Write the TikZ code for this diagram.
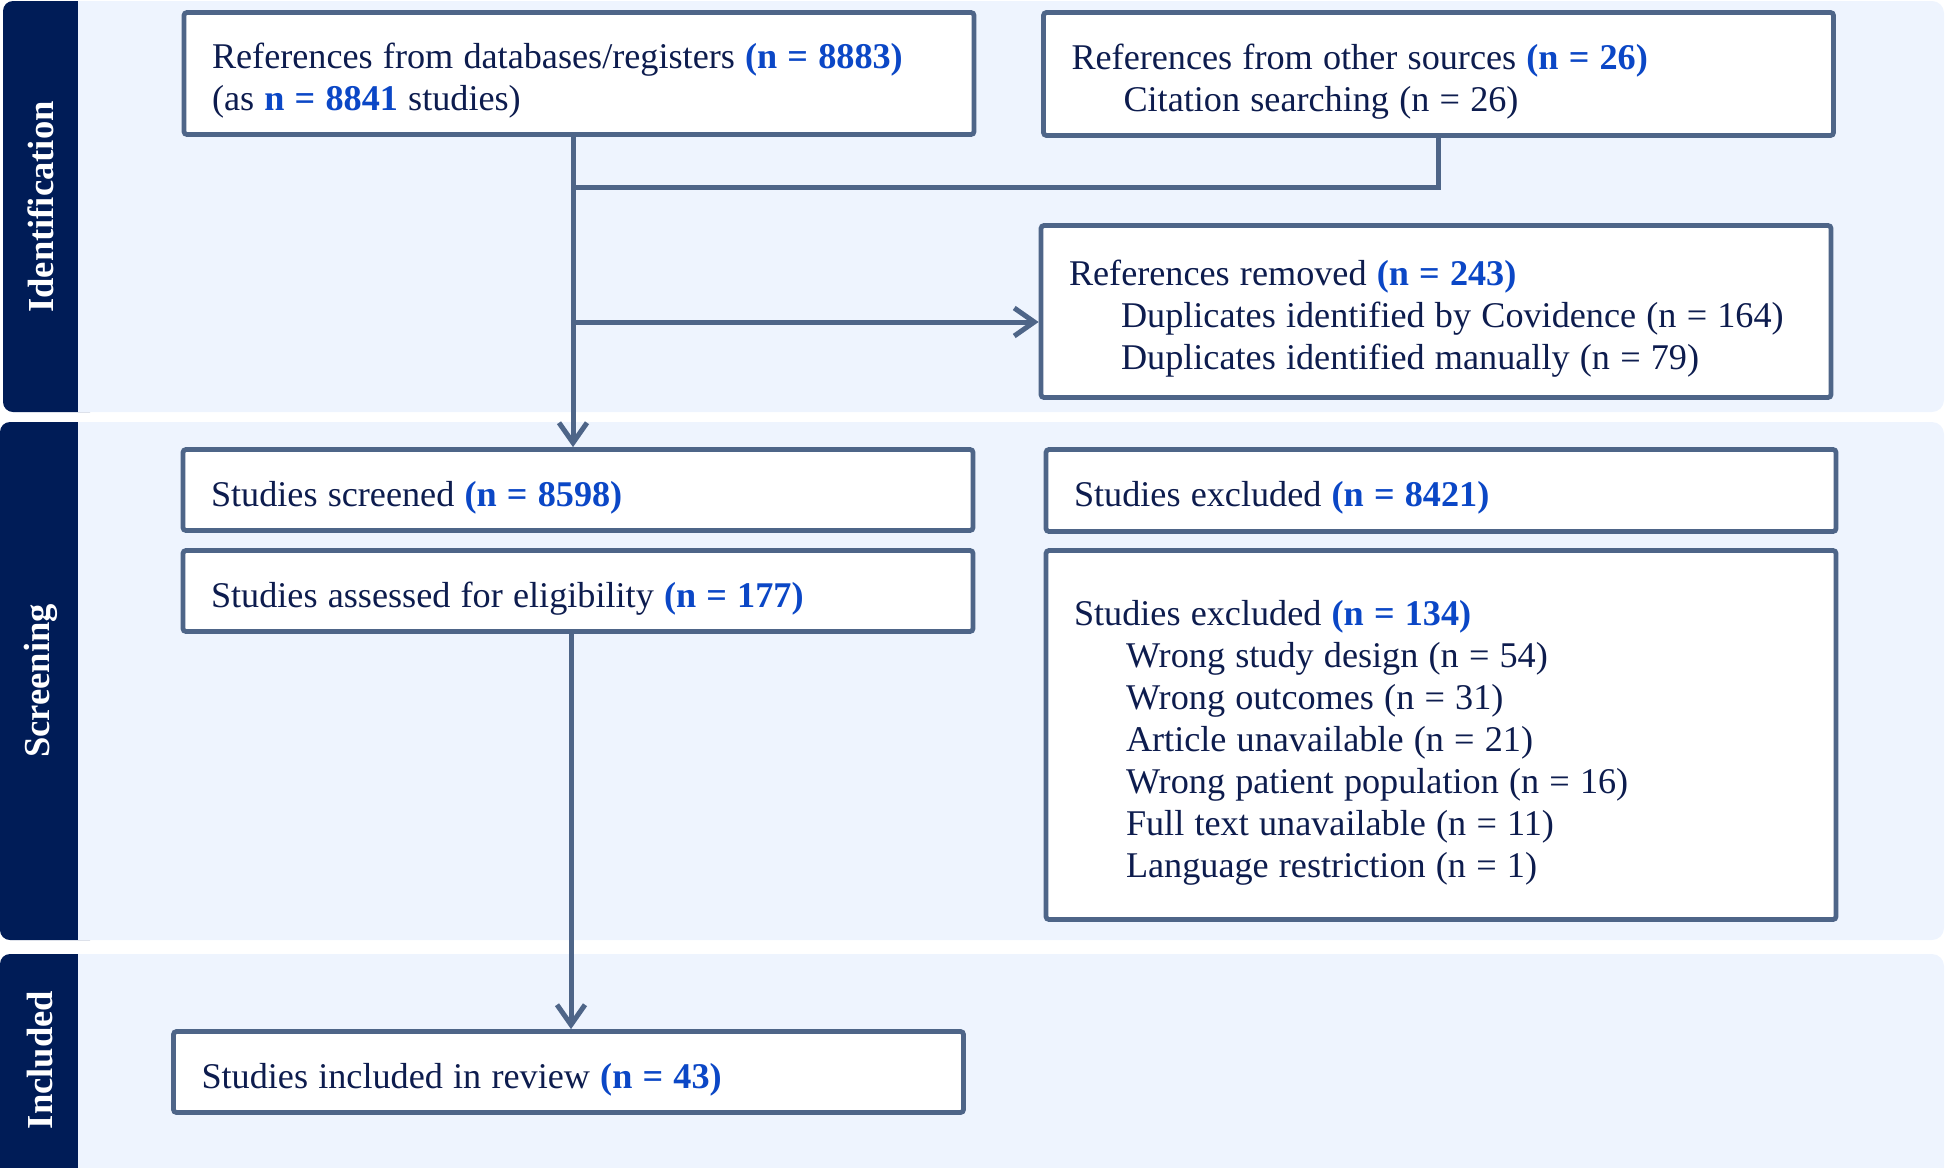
\documentclass[tikz,border=0pt]{standalone}
\usepackage{fontspec}
\setmainfont{Liberation Serif}
\usetikzlibrary{arrows.meta}
\definecolor{navy}{HTML}{001C57}
\definecolor{bandc}{HTML}{EEF4FE}
\definecolor{boxc}{HTML}{4E6588}
\definecolor{txt}{HTML}{0D1C4E}
\definecolor{blu}{HTML}{0B47C6}
\newcommand\hl[1]{\textcolor{blu}{\textbf{#1}}}
\newcommand\ind{\hspace*{26pt}}
\newcommand\tightsp{\spaceskip=5.1pt plus 1pt minus 0.5pt\relax}
\begin{document}
\begin{tikzpicture}[x=0.5pt,y=-0.5pt,
  box/.style={draw=boxc, line width=2.4pt, fill=white, rounded corners=1.5pt,
    inner xsep=14pt, inner ysep=0pt, text width=367pt, align=left,
    text=txt, font=\fontsize{18.1}{21}\selectfont,
    execute at begin node={\tightsp\rule{0pt}{20pt}},
    execute at end node={\rule[-4pt]{0pt}{0pt}}},
  conn/.style={draw=boxc, line width=2.5pt},
  tip/.style={-{Straight Barb[length=10pt,width=14pt]}},
  lab/.style={rotate=90, text=white, font=\fontsize{18.3}{21}\selectfont\bfseries}]
\useasboundingbox (0,0) rectangle (1946,1167);
\clip (0,0) rectangle (1946,1167);
% bands
\fill[bandc, rounded corners=6pt] (3,1) rectangle (1944,412);
\fill[navy, rounded corners=5pt] (3,1) rectangle (100,412);
\fill[bandc] (78,1) rectangle (110,412);
\fill[bandc, rounded corners=6pt] (0,422) rectangle (1944,940);
\fill[navy, rounded corners=5pt] (0,422) rectangle (100,940);
\fill[bandc] (78,422) rectangle (110,940);
\fill[bandc, rounded corners=6pt] (0,954) rectangle (1944,1180);
\fill[navy, rounded corners=5pt] (0,954) rectangle (100,1180);
\fill[bandc] (78,954) rectangle (110,1180);
\node[lab] (l1) at (40.5,207) {Identification};
\node[lab] (l2) at (40.5,681) {Screening};
\node[lab] (l3) at (40.5,1060) {Included};
% boxes
\node[box, minimum height=61pt] (A) at (579,73.5)
  {References from databases/registers \hl{(n = 8883)}\\(as \hl{n = 8841} studies)};
\node[box, minimum height=61.5pt] (B) at (1438.5,74)
  {References from other sources \hl{(n = 26)}\\\ind Citation searching (n = 26)};
\node[box, minimum height=86pt] (C) at (1436,311.5)
  {References removed \hl{(n = 243)}\\\ind Duplicates identified by Covidence (n = 164)\\\ind Duplicates identified manually (n = 79)};
\node[box, minimum height=40.5pt] (D) at (578,490)
  {Studies screened \hl{(n = 8598)}};
\node[box, minimum height=40.5pt] (E) at (578,591)
  {Studies assessed for eligibility \hl{(n = 177)}};
\node[box, minimum height=41pt] (G) at (1441,490.5)
  {Studies excluded \hl{(n = 8421)}};
\node[box, minimum height=184.5pt] (H) at (1441,735)
  {Studies excluded \hl{(n = 134)}\\\ind Wrong study design (n = 54)\\\ind Wrong outcomes (n = 31)\\\ind Article unavailable (n = 21)\\\ind Wrong patient population (n = 16)\\\ind Full text unavailable (n = 11)\\\ind Language restriction (n = 1)};
\node[box, minimum height=40.5pt] (F) at (568.5,1072)
  {Studies included in review \hl{(n = 43)}};
% connectors
\coordinate (j1) at (573,187);
\coordinate (j2) at (573,322);
\coordinate (k) at (571,0);
\draw[conn] (B.south) |- (j1);
\draw[conn,tip] (A.south -| j1) -- (D.north -| j1);
\draw[conn,tip] (j2) -- (C.west |- j2);
\draw[conn,tip] (E.south -| k) -- (F.north -| k);
\end{tikzpicture}
\end{document}
